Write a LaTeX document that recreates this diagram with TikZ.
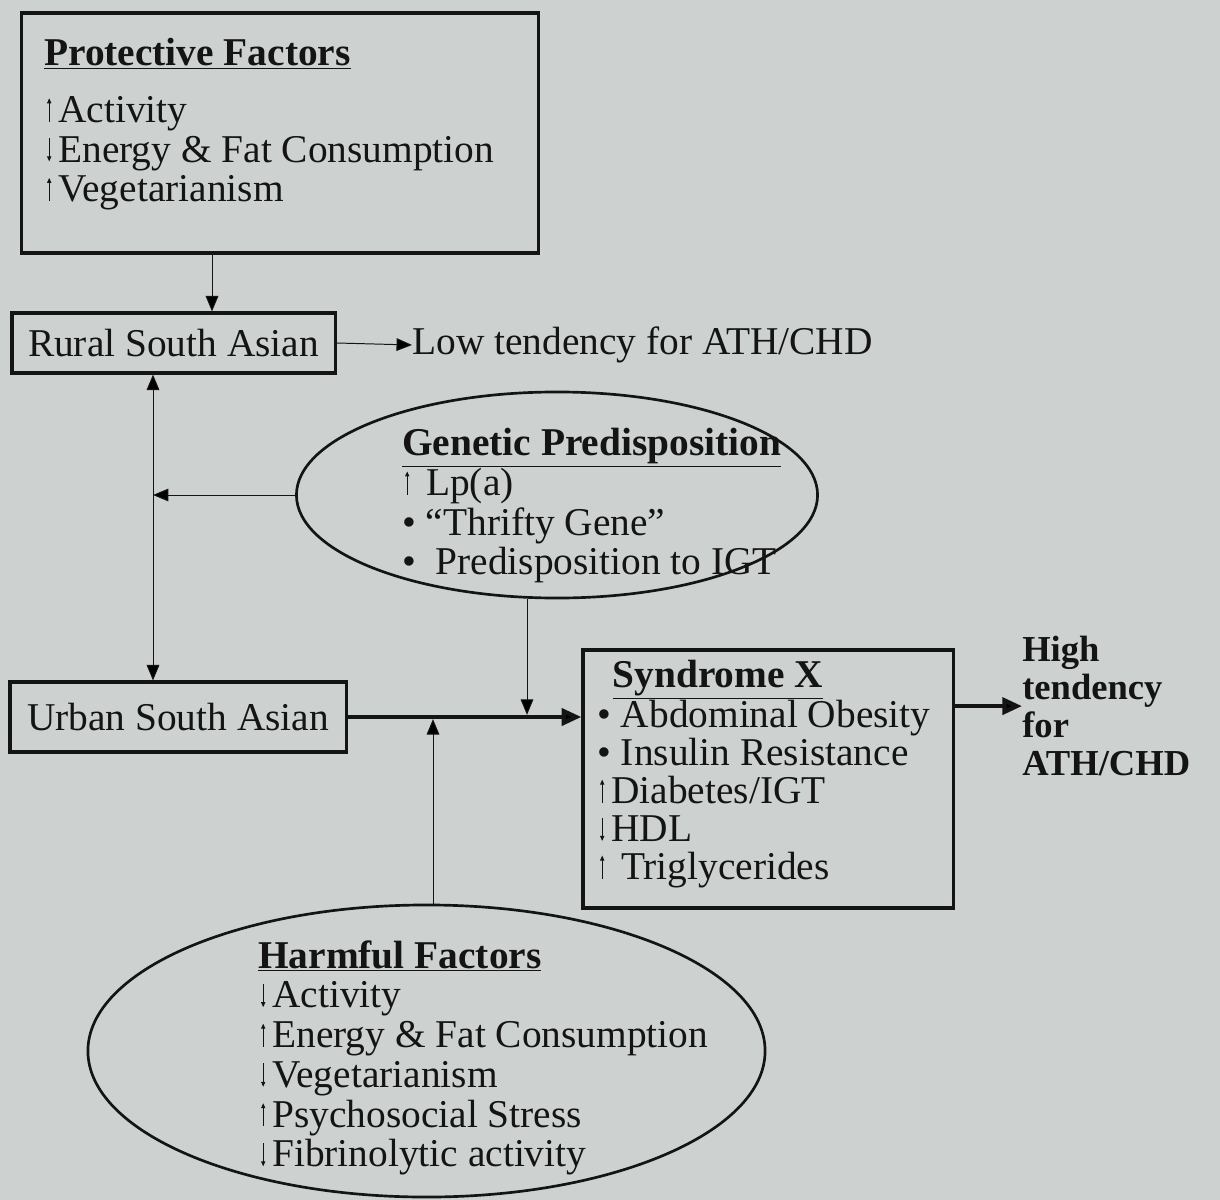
\documentclass[tikz,border=0pt]{standalone}
\usepackage{fontspec}
\setmainfont{Liberation Serif}
\usetikzlibrary{positioning, arrows.meta, shapes.geometric}
\definecolor{scanpaper}{HTML}{CDD1CF}
\definecolor{scanink}{HTML}{141414}
\newcommand{\uparr}{\hspace{2pt}\tikz[baseline=0pt]\draw[scanink, line width=0.6pt, -{Triangle[length=3.5pt,width=3pt]}] (0,0.5pt) -- (0,17pt);\hspace{5pt}}
\newcommand{\dnarr}{\hspace{2pt}\tikz[baseline=0pt]\draw[scanink, line width=0.6pt, -{Triangle[length=3.5pt,width=3pt]}] (0,17pt) -- (0,0.5pt);\hspace{5pt}}

\begin{document}
\begin{tikzpicture}[x=0.025cm, y=-0.025cm,
    every node/.style={font=\fontsize{28}{28.3}\selectfont, text=scanink, inner sep=0pt},
    framebox/.style={rectangle, draw=scanink, line width=2.2pt},
    blob/.style={ellipse, draw=scanink, line width=1.9pt},
    listtext/.style={anchor=north west, align=left},
    thinarrow/.style={draw=scanink, line width=0.7pt, -{Triangle[length=11pt,width=9pt]}},
    thickarrow/.style={draw=scanink, line width=3pt, -{Triangle[length=14pt,width=12pt]}}]
  \fill[scanpaper] (0,0) rectangle (1220,1200);
  \useasboundingbox (0,0) rectangle (1220,1200);

  % Boxes
  \node[framebox, minimum width=12.9cm, minimum height=6cm] (prot) at (280,133) {};
  \node[listtext] (prottxt) at (44,38) {\textbf{\underline{Protective Factors}}\\[12pt]
    \uparr Activity\\ \dnarr Energy \& Fat Consumption\\ \uparr Vegetarianism};
  \node[framebox, minimum width=8.075cm, minimum height=1.5cm] (rural) at (173.5,343) {Rural South Asian};
  \node[anchor=west] (low) at (412,345) {Low tendency for ATH/CHD};
  \node[framebox, minimum width=8.4cm, minimum height=1.75cm] (urban) at (178,717) {Urban South Asian};
  \node[framebox, minimum width=9.25cm, minimum height=6.45cm] (synd) at (768,779) {};
  \node[listtext, font=\fontsize{28}{27}\selectfont] (syndtxt) at (597,660) {\hspace*{11pt}\textbf{\underline{Syndrome X}}\\
    \textbullet\ Abdominal Obesity\\ \textbullet\ Insulin Resistance\\ \uparr Diabetes/IGT\\ \dnarr HDL\\ \uparr\ Triglycerides};
  \node[listtext, font=\bfseries\fontsize{26}{27}\selectfont] (high) at (1022,636) {High\\tendency\\for\\ATH/CHD};

  % Ellipses
  \node[blob, minimum width=13.025cm, minimum height=5.15cm] (gen) at (557,495) {};
  \node[listtext] (gentxt) at (402,428) {\textbf{\underline{Genetic Predisposition}}\\
    \uparr\ Lp(a)\\ \textbullet\ ``Thrifty Gene''\\ \textbullet\ \ Predisposition to IGT};
  \node[blob, minimum width=16.925cm, minimum height=7.3cm] (harm) at (426.5,1051) {};
  \node[listtext] (harmtxt) at (258,940) {\textbf{\underline{Harmful Factors}}\\
    \dnarr Activity\\ \uparr Energy \& Fat Consumption\\ \dnarr Vegetarianism\\
    \uparr Psychosocial Stress\\ \dnarr Fibrinolytic activity};

  % Connectors
  \coordinate (protdrop) at (212,0);
  \coordinate (vline) at (153,0);
  \coordinate (gdrop) at (527,0);
  \coordinate (hrise) at (433,0);
  \draw[thinarrow] (prot.south -| protdrop) -- (rural.north -| protdrop);
  \draw[thinarrow] (rural.east) -- (low.west);
  \draw[thinarrow, {Triangle[length=11pt,width=9pt]}-{Triangle[length=11pt,width=9pt]}]
    (rural.south -| vline) -- (urban.north -| vline);
  \draw[thinarrow] (gen.west) -- (gen.west -| vline);
  \draw[thickarrow] (urban.east) -- (urban.east -| synd.west);
  \draw[thinarrow, shorten >=1.5pt] (gen.south -| gdrop) -- (urban.east -| gdrop);
  \draw[thinarrow, shorten >=1.5pt] (harm.north -| hrise) -- (urban.east -| hrise);
  \draw[thickarrow] (synd.east |- high.west) -- (high.west);
\end{tikzpicture}
\end{document}
